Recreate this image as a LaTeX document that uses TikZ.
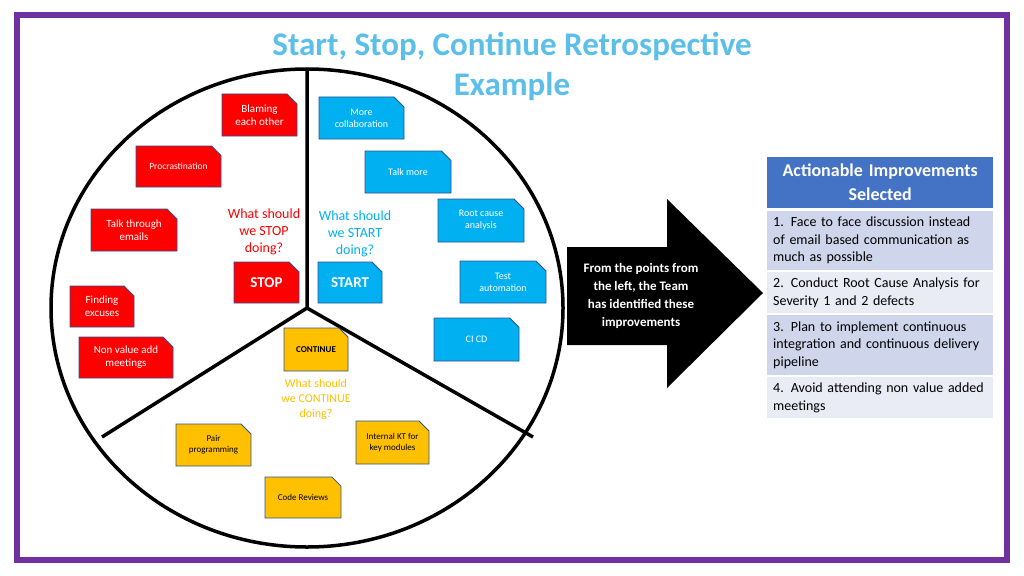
\documentclass[tikz,border=0pt]{standalone}
\usepackage{fontspec}
\setmainfont{Carlito}
\usetikzlibrary{shapes.misc}
\definecolor{frame}{HTML}{7030A0}
\definecolor{ttl}{HTML}{5BBFEA}
\definecolor{nred}{HTML}{FF0000}
\definecolor{nblue}{HTML}{00B0F0}
\definecolor{ngold}{HTML}{FFC000}
\definecolor{nedge}{HTML}{2F528F}
\definecolor{hdr}{HTML}{4472C4}
\definecolor{rowa}{HTML}{CFD5EA}
\definecolor{rowb}{HTML}{E9EBF5}
\tikzset{
 note/.style={chamfered rectangle,chamfered rectangle corners=north east,chamfered rectangle xsep=5pt,chamfered rectangle ysep=5pt,draw=nedge,line width=0.8pt,inner sep=1pt,align=center,font=\fontsize{11}{13}\selectfont,text=white},
 red/.style={note,fill=nred},
 blu/.style={note,fill=nblue},
 gld/.style={note,fill=ngold,text=black,font=\fontsize{9}{11}\selectfont},
 q/.style={align=center,font=\fontsize{14}{17}\selectfont},
 row/.style={anchor=north west,text width=214pt,inner xsep=6pt,inner ysep=3pt,align=left,font=\fontsize{14}{17.5}\selectfont,minimum height=#1}
}
\newcommand{\nt}[7]{\node[#6,minimum width={#4-#2},minimum height={#5-#3}] (#1) at ({(#2+#4)/2},{(#3+#5)/2}) {#7};}
\begin{document}
\begin{tikzpicture}[x=1pt,y=-1pt]
\useasboundingbox (0,0) rectangle (1024,575);
\fill[white] (0,0) rectangle (1024,575);
\draw[frame,line width=6pt] (17,15) rectangle (1007,560);
\node[text=ttl,font=\bfseries\fontsize{33}{40}\selectfont,align=center] (title) at (512,66) {Start, Stop, Continue Retrospective\\Example};
% wheel
\coordinate (c) at (307,308);
\draw[line width=3.5pt] (c) ellipse [x radius=256, y radius=239];
\coordinate (top) at (307,69);
\coordinate (ll) at (102,437);
\coordinate (lr) at (533,437);
\draw[line width=3.5pt] (c) -- (top) (c) -- (ll) (c) -- (lr);
% stop notes
\nt{n1}{222}{94}{297}{136}{red}{Blaming\\each other}
\nt{n2}{136}{146}{221}{187}{red,font=\fontsize{9.5}{11}\selectfont}{Procrastination}
\nt{n3}{91}{209}{177}{251}{red}{Talk through\\emails}
\nt{n4}{70}{286}{134}{327}{red}{Finding\\excuses}
\nt{n5}{79}{337}{173}{378}{red}{Non value add\\meetings}
\nt{stop}{234}{262}{299}{303}{red,font=\bfseries\fontsize{15}{18}\selectfont}{STOP}
% start notes
\nt{s1}{319}{97}{404}{139}{blu,font=\fontsize{10}{12}\selectfont}{More\\collaboration}
\nt{s2}{365}{151}{451}{193}{blu,font=\fontsize{10}{12}\selectfont}{Talk more}
\nt{s3}{438}{199}{524}{242}{blu,font=\fontsize{10}{12}\selectfont}{Root cause\\analysis}
\nt{s4}{460}{261}{546}{303}{blu,font=\fontsize{10}{12}\selectfont}{Test\\automation}
\nt{s5}{434}{318}{519}{361}{blu,font=\fontsize{10}{12}\selectfont}{CI CD}
\nt{start}{318}{262}{382}{303}{blu,font=\bfseries\fontsize{15}{18}\selectfont}{START}
% continue notes
\nt{cont}{284}{328}{348}{371}{gld,font=\bfseries\fontsize{9}{11}\selectfont}{CONTINUE}
\nt{c1}{176}{424}{251}{466}{gld}{Pair\\programming}
\nt{c2}{356}{421}{429}{464}{gld}{Internal KT for\\key modules}
\nt{c3}{265}{477}{341}{518}{gld}{Code Reviews}
% questions
\node[q,text=nred] (qstop) at (264,232) {What should\\we STOP\\doing?};
\node[q,text=nblue] (qstart) at (355,234) {What should\\we START\\doing?};
\node[q,text=ngold,font=\fontsize{12}{15}\selectfont] (qcont) at (316,399) {What should\\we CONTINUE\\doing?};
% arrow
\fill[black] (567,247) -- (667,247) -- (667,199) -- (763,293) -- (667,388) -- (667,345) -- (567,345) -- cycle;
\node[text=white,align=center,font=\bfseries\fontsize{13}{18}\selectfont] (atext) at (641,296) {From the points from\\the left, the Team\\has identified these\\improvements};
% table
\node[row=51pt,fill=hdr,text=white,align=center,font=\bfseries\fontsize{18}{24}\selectfont,inner ysep=2pt] (h) at (767,157) {Actionable Improvements\\Selected};
\node[row=59pt,fill=rowa] (r1) at (767,211) {1. Face to face discussion instead of email based communication as much as possible};
\node[row=41pt,fill=rowb] (r2) at (767,272) {2. Conduct Root Cause Analysis for Severity 1 and 2 defects};
\node[row=60pt,fill=rowa] (r3) at (767,315) {3. Plan to implement continuous integration and continuous delivery pipeline};
\node[row=41pt,fill=rowb] (r4) at (767,377) {4. Avoid attending non value added meetings};
\end{tikzpicture}
\end{document}
